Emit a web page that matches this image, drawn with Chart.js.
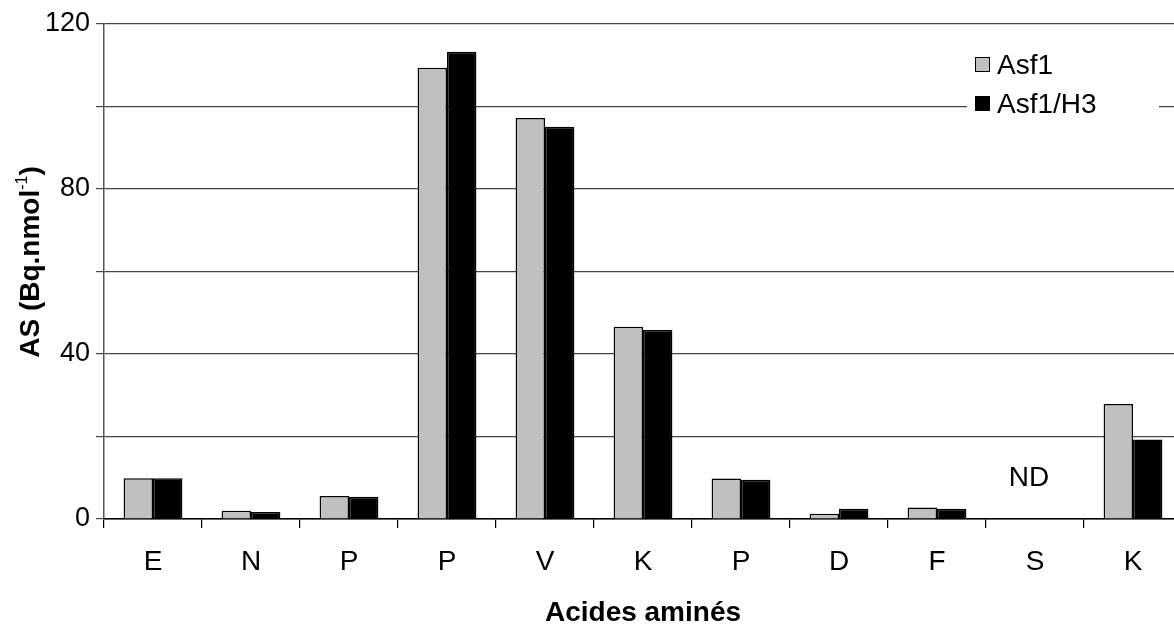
<!DOCTYPE html>
<html>
<head>
<meta charset="utf-8">
<script src="https://cdn.jsdelivr.net/npm/chart.js@4.4.0/dist/chart.umd.min.js"></script>
<style>
  html, body { margin: 0; padding: 0; background: #fff; overflow: hidden; }
  #wrap { width: 1190px; height: 624px; }
</style>
</head>
<body>
<div id="wrap"><canvas id="chart" width="1190" height="624"></canvas></div>
<script>
// amino acids along the x axis
const categories = ['E', 'N', 'P', 'P', 'V', 'K', 'P', 'D', 'F', 'S', 'K'];
// specific activity, S is not determined (ND)
const asf1 = [9.9, 2.0, 5.6, 109.4, 97.2, 46.6, 9.8, 1.3, 2.8, null, 27.9];
const asf1H3 = [9.9, 1.7, 5.4, 113.3, 95.1, 45.8, 9.5, 2.5, 2.5, null, 19.3];
const yTicks = [0, 40, 80, 120];

const FONT = "'Liberation Sans', Arial, sans-serif";

// legend, ND note and axis titles drawn on top
const extras = {
    id: 'extras',
    afterDraw(chart) {
        const ctx = chart.ctx;
        const x = chart.scales.x, y = chart.scales.y;
        ctx.save();

        // legend box inside plot
        ctx.fillStyle = '#fff';
        ctx.fillRect(967, 36, 192, 90);
        const items = chart.data.datasets;
        items.forEach((ds, i) => {
            const top = 57 + i * 39;
            ctx.fillStyle = ds.backgroundColor;
            ctx.fillRect(975, top, 14, 14);
            ctx.strokeStyle = '#000';
            ctx.lineWidth = 1;
            ctx.strokeRect(975.5, top + 0.5, 14, 14);
            ctx.fillStyle = '#000';
            ctx.font = '28px ' + FONT;
            ctx.textBaseline = 'middle';
            ctx.textAlign = 'left';
            ctx.fillText(ds.label, 997, top + 9);
        });

        // ND for the missing value
        ctx.font = '28px ' + FONT;
        ctx.textAlign = 'center';
        ctx.textBaseline = 'middle';
        ctx.fillText('ND', x.getPixelForValue(9) - 6, y.getPixelForValue(10) + 1);

        // x title
        ctx.font = 'bold 28px ' + FONT;
        ctx.textBaseline = 'alphabetic';
        ctx.fillText('Acides aminés', (x.left + x.right) / 2, 621);

        // y title with superscript
        ctx.translate(39, 262);
        ctx.rotate(-Math.PI / 2);
        const main = 'AS (Bq.nmol', sup = '-1', tail = ')';
        ctx.font = 'bold 28px ' + FONT;
        const wMain = ctx.measureText(main).width;
        const wTail = ctx.measureText(tail).width;
        ctx.font = '16px ' + FONT;
        const wSup = ctx.measureText(sup).width;
        let cx = -(wMain + wSup + wTail) / 2;
        ctx.textAlign = 'left';
        ctx.font = 'bold 28px ' + FONT;
        ctx.fillText(main, cx, 0);
        cx += wMain;
        ctx.font = '16px ' + FONT;
        ctx.fillText(sup, cx, -12);
        cx += wSup;
        ctx.font = 'bold 28px ' + FONT;
        ctx.fillText(tail, cx, 0);
        ctx.restore();
    }
};

new Chart(document.getElementById('chart'), {
    type: 'bar',
    data: {
        labels: categories,
        datasets: [
            { label: 'Asf1', data: asf1, backgroundColor: '#c0c0c0', borderColor: '#000', borderWidth: 1.5 },
            { label: 'Asf1/H3', data: asf1H3, backgroundColor: '#000', borderColor: '#000', borderWidth: 1.5 }
        ]
    },
    options: {
        responsive: false,
        animation: false,
        categoryPercentage: 0.6,
        barPercentage: 1.0,
        layout: { padding: { left: 0, top: 24, right: 8, bottom: 0 } },
        plugins: { legend: { display: false }, tooltip: { enabled: false } },
        scales: {
            x: {
                offset: true,
                afterFit(scale) { scale.height = 105; },
                grid: { offset: true, drawOnChartArea: false, drawTicks: true, tickLength: 9, color: '#000', lineWidth: 1.2 },
                border: { color: '#000', width: 1.5 },
                ticks: { color: '#000', font: { family: FONT, size: 28 }, padding: 17, maxRotation: 0 }
            },
            y: {
                min: 0,
                max: 120,
                afterFit(scale) { scale.width = 104; },
                ticks: {
                    stepSize: 20,
                    color: '#000',
                    padding: 6,
                    font: { family: FONT, size: 27 },
                    callback: v => yTicks.includes(v) ? v : ''
                },
                grid: { color: '#444', lineWidth: 1.2, tickLength: 8 },
                border: { color: '#555', width: 1.5 }
            }
        }
    },
    plugins: [extras]
});
</script>
</body>
</html>
